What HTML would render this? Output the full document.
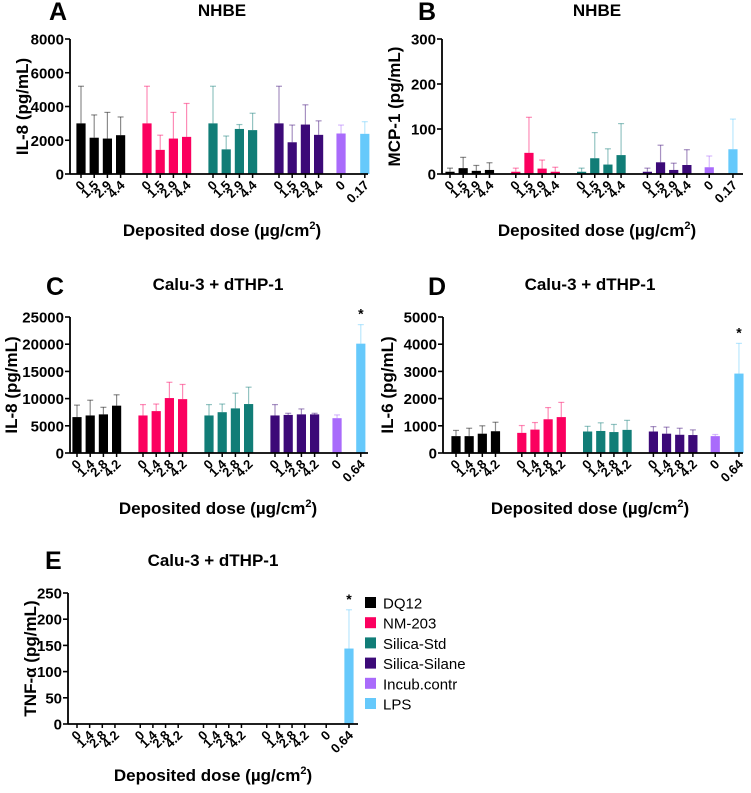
<!DOCTYPE html>
<html><head><meta charset="utf-8"><style>
body{margin:0;background:#fff}
svg text{font-family:"Liberation Sans",Arial,sans-serif}
</style></head><body>
<svg id="fig" width="751" height="788" viewBox="0 0 751 788" xmlns="http://www.w3.org/2000/svg"></svg>
<script>
const groups = ['DQ12','NM-203','Silica-Std','Silica-Silane','Incub.contr','LPS'];
const colors = ['#000000','#fb005f','#117d77','#3c0a78','#a96bfb','#66c9fb'];
const slotIdx = [0,1,2,3,5,6,7,8,10,11,12,13,15,16,17,18,19.7,21.5];
const barGroup = [0,0,0,0,1,1,1,1,2,2,2,2,3,3,3,3,4,5];
const labelsNHBE = ['0','1.5','2.9','4.4','0','1.5','2.9','4.4','0','1.5','2.9','4.4','0','1.5','2.9','4.4','0','0.17'];
const labelsCalu = ['0','1.4','2.8','4.2','0','1.4','2.8','4.2','0','1.4','2.8','4.2','0','1.4','2.8','4.2','0','0.64'];

const valsA = [3000,2150,2100,2300, 3000,1430,2100,2200, 3000,1460,2670,2600, 3000,1880,2930,2320, 2400,2380];
const errA  = [5200,3500,3650,3380, 5200,2300,3650,4180, 5200,2250,2930,3600, 5200,2900,4100,3150, 2900,3100];
const ticksA = [0,2000,4000,6000,8000];

const valsB = [5,13,7,9, 5,47,12,5, 5,35,21,42, 5,26,9,20, 15,55];
const errB  = [13,37,19,25, 13,126,31,15, 13,92,56,112, 13,64,24,54, 40,122];
const ticksB = [0,100,200,300];

const valsC = [6600,6900,7100,8700, 6900,7700,10100,9900, 6900,7500,8200,9000, 6900,7000,7100,7100, 6400,20100];
const errC  = [8800,9700,8400,10700, 8900,9000,13000,12600, 8900,9000,11000,12100, 8900,7300,8100,7300, 7000,23600];
const ticksC = [0,5000,10000,15000,20000,25000];

const valsD = [620,620,710,800, 740,860,1240,1320, 790,810,770,850, 790,710,670,660, 620,2920];
const errD  = [830,910,1000,1130, 1010,1120,1670,1860, 980,1110,1050,1200, 970,950,910,850, 680,4030];
const ticksD = [0,1000,2000,3000,4000,5000];

const valsE = [0,0,0,0, 0,0,1,1, 0,0,0,0, 0,0,0,0, 0,144];
const errE  = [0,0,0,0, 0,0,1,1, 0,0,0,0, 0,0,0,0, 0,218];
const ticksE = [0,50,100,150,200,250];

const svg = document.getElementById('fig');
const NS = 'http://www.w3.org/2000/svg';
function mk(tag, attrs, parent){const e=document.createElementNS(NS,tag);for(const k in attrs)e.setAttribute(k,attrs[k]);(parent||svg).appendChild(e);return e;}

function panel(p){
  const g = mk('g',{});
  
  
  const ymax = p.ticks[p.ticks.length-1];
  const yS = v => p.y0 - (v/ymax)*(p.y0-p.y1);
  const xS = i => p.bx0 + slotIdx[i]*p.slot;
  const L = mk('text',{x:p.lx,y:p.ly,'font-size':25,'font-weight':'bold'},g); L.textContent=p.id;
   
  const T = mk('text',{x:p.tx,y:p.ty,'font-size':17,'font-weight':'bold','text-anchor':'middle'},g); T.textContent=p.title;
   
  p.vals.forEach((v,i)=>{
    const c = colors[barGroup[i]], x = xS(i);
    const e = p.err[i];
    if(e>v){
      const ln = mk('line',{x1:x,x2:x,y1:yS(v),y2:yS(e),stroke:c,'stroke-opacity':0.45,'stroke-width':1.2},g);
       
      const cap = mk('line',{x1:x-3,x2:x+3,y1:yS(e),y2:yS(e),stroke:c,'stroke-opacity':0.45,'stroke-width':1.2},g);
       
    }
    const r = mk('rect',{x:x-4.6,y:yS(v),width:9.2,height:Math.max(0,p.y0-yS(v)),fill:c},g);
    
    
    mk('line',{x1:x,x2:x,y1:p.y0,y2:p.y0+4,stroke:'#000','stroke-width':1.5},g);
    const tl = mk('text',{x:0,y:0,'font-size':13,'font-weight':'bold','text-anchor':'end',transform:`translate(${x+5},${p.y0+12}) rotate(-45)`},g);
    tl.textContent = p.labels[i];
     
  });
  if(p.star){
    const s = mk('text',{x:xS(17),y:yS(p.err[17])-6,'font-size':14,'font-weight':'bold','text-anchor':'middle'},g); s.textContent='*';
     
  }
  const ya = mk('line',{x1:p.ax,x2:p.ax,y1:p.y1,y2:p.y0,stroke:'#000','stroke-width':1.8},g);
   
  const xa = mk('line',{x1:p.ax,x2:p.axEnd,y1:p.y0,y2:p.y0,stroke:'#000','stroke-width':1.8},g);
   
  p.ticks.forEach(t=>{
    const y=yS(t);
    mk('line',{x1:p.ax-5,x2:p.ax,y1:y,y2:y,stroke:'#000','stroke-width':1.6},g);
    const tt = mk('text',{x:p.ax-6,y:y+5.5,'font-size':15,'font-weight':'bold','text-anchor':'end'},g); tt.textContent=t;
     
  });
  const yt = mk('text',{x:0,y:0,'font-size':17,'font-weight':'bold','text-anchor':'middle',transform:`translate(${p.ytx},${(p.y0+p.y1)/2}) rotate(-90)`},g);
  yt.textContent=p.ytitle;  
  const xt = mk('text',{x:p.tx,y:p.xty,'font-size':17,'font-weight':'bold','text-anchor':'middle'},g);
  xt.innerHTML='Deposited dose (µg/cm<tspan font-size="11" dy="-7">2</tspan><tspan dy="7">)</tspan>';
   
}

panel({id:'A',title:'NHBE',lx:49,ly:20,tx:222,ty:16,ax:70,axEnd:368,y0:174,y1:39,bx0:81,slot:13.2,ticks:ticksA,vals:valsA,err:errA,labels:labelsNHBE,ytitle:'IL-8 (pg/mL)',ytx:28,xty:236});
panel({id:'B',title:'NHBE',lx:418,ly:20,tx:597,ty:16,ax:442,axEnd:743,y0:174,y1:39,bx0:450,slot:13.16,ticks:ticksB,vals:valsB,err:errB,labels:labelsNHBE,ytitle:'MCP-1 (pg/mL)',ytx:400,xty:236});
panel({id:'C',title:'Calu-3 + dTHP-1',lx:46,ly:295,tx:218,ty:290,ax:70,axEnd:368,y0:453,y1:317,bx0:77,slot:13.2,ticks:ticksC,vals:valsC,err:errC,labels:labelsCalu,ytitle:'IL-8 (pg/mL)',ytx:17,xty:514,star:true});
panel({id:'D',title:'Calu-3 + dTHP-1',lx:428,ly:295,tx:590,ty:290,ax:443,axEnd:743,y0:453,y1:317,bx0:456,slot:13.16,ticks:ticksD,vals:valsD,err:errD,labels:labelsCalu,ytitle:'IL-6 (pg/mL)',ytx:393,xty:514,star:true});
panel({id:'E',title:'Calu-3 + dTHP-1',lx:45,ly:569,tx:213,ty:566,ax:68,axEnd:358,y0:724,y1:593,bx0:77,slot:12.65,ticks:ticksE,vals:valsE,err:errE,labels:labelsCalu,ytitle:'TNF-α (pg/mL)',ytx:36,xty:781,star:true});

const lg = mk('g',{});
 
groups.forEach((n,i)=>{
  const y = 603 + i*20.2;
  const r = mk('rect',{x:365,y:y-6,width:11,height:11,fill:colors[i]},lg);
   
  const t = mk('text',{x:383,y:y+5.5,'font-size':15},lg); t.textContent=n;
   
});
</script>
</body></html>
